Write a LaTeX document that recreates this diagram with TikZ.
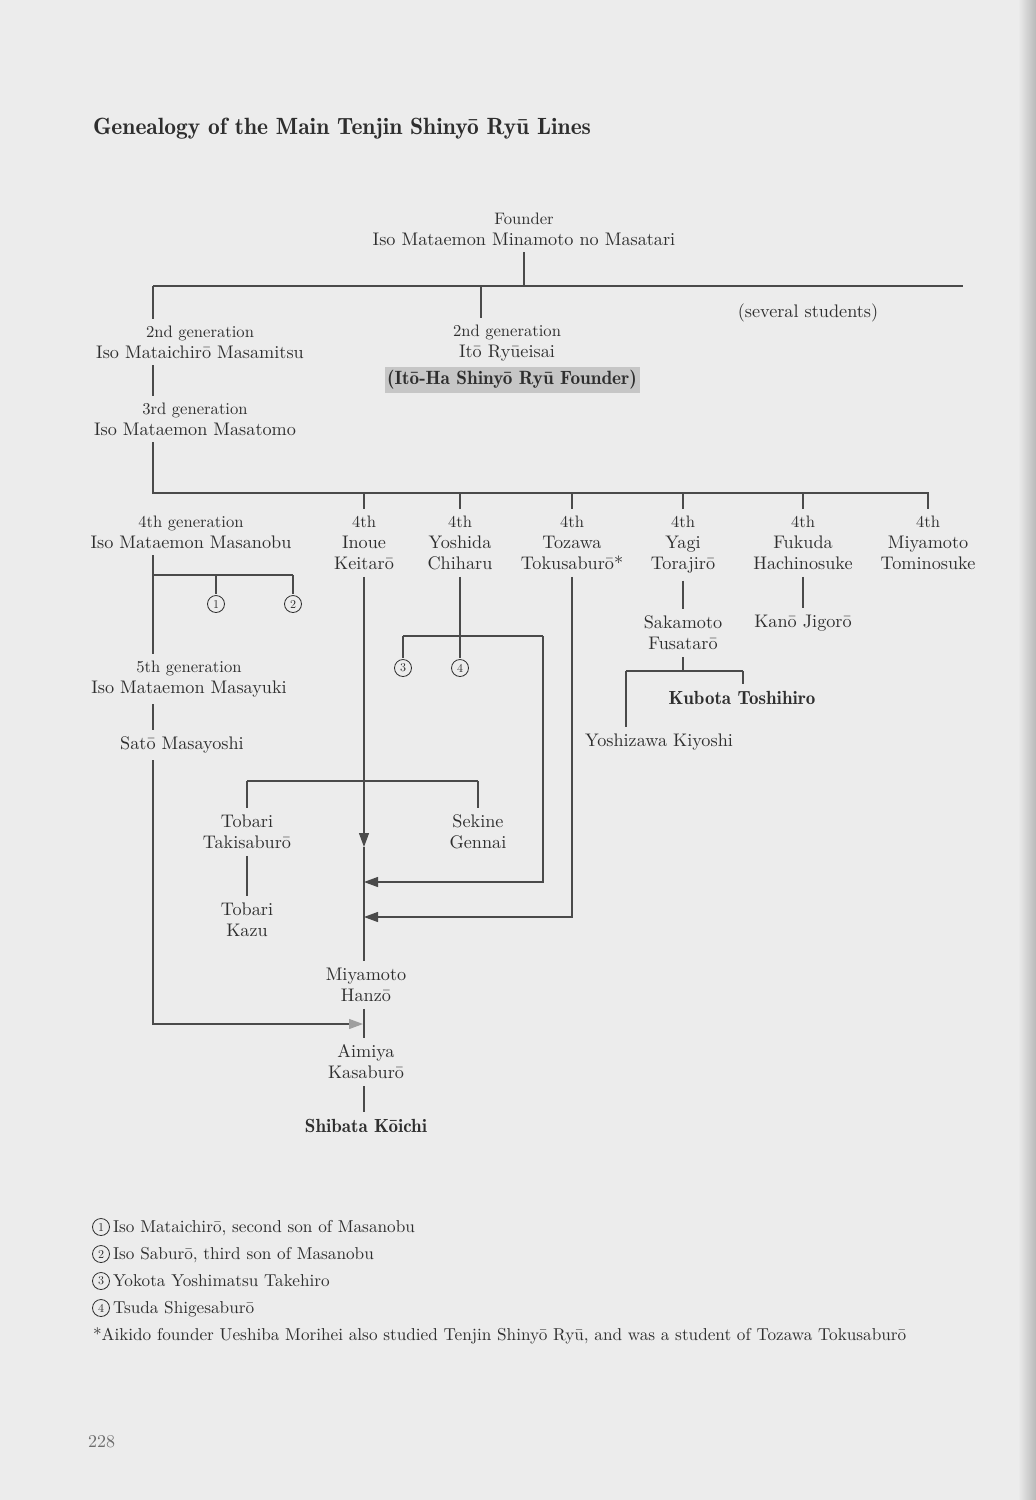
\documentclass[tikz,border=0pt]{standalone}
\usepackage{fontspec}
\setmainfont{lmroman10-regular}[Extension=.otf, BoldFont=lmromandemi10-regular]
\newfontfamily\demi{lmromandemi10-regular}[Extension=.otf]
\usetikzlibrary{arrows.meta}
\definecolor{ink}{HTML}{2E2E2E}
\definecolor{rulec}{HTML}{4A4A4A}
\definecolor{paper}{HTML}{ECECEC}
\definecolor{boxgray}{HTML}{C6C6C6}
\newcommand\nmsize{\fontsize{18.2}{21}\selectfont}
\newcommand\gl[1]{{\fontsize{16.6}{21}\selectfont #1}}
\begin{document}
\begin{tikzpicture}[x=1pt,y=-1pt,
  every node/.style={text=ink, inner sep=0pt, outer sep=7pt, font=\nmsize, align=center},
  ln/.style={draw=rulec, line width=1.2pt},
  arr/.style={ln, -{Triangle[length=14pt,width=10pt]}},
  arrlight/.style={ln, -{Triangle[length=14pt,width=10pt,color=gray!75]}},
  circ/.style={circle, draw=ink, line width=0.8pt, minimum size=17pt, inner sep=0pt, outer sep=1.5pt, font=\fontsize{12}{13}\selectfont},
  boldname/.style={font=\demi\fontsize{19}{21}\selectfont},
  fnote/.style={anchor=base west, outer sep=0pt, font=\fontsize{17.2}{20}\selectfont}]
\fill[paper] (0,0) rectangle (1036,1500);
\shade[left color=paper, right color=gray!55] (1018,0) rectangle (1036,1500);
\useasboundingbox (0,0) rectangle (1036,1500);

% title
\node[anchor=base west, outer sep=0pt, font=\demi\fontsize{23.5}{26}\selectfont] (title) at (93,134) {Genealogy of the Main Tenjin Shinyō Ryū Lines};

% founder and 2nd generation
\node (founder) at (524,229) {\gl{Founder}\\Iso Mataemon Minamoto no Masatari};
\coordinate (tL) at (153,286);
\coordinate (tM) at (481,286);
\coordinate (tR) at (963,286);
\draw[ln] (founder.south) -- (founder.south |- tL);
\draw[ln] (tL) -- (tR);

\node (gen2a) at (200,342) {\gl{2nd generation}\\Iso Mataichirō Masamitsu};
\node (gen2b) at (507,343) {\gl{2nd generation}\\Itō Ryūeisai};
\node[fill=boxgray, font=\demi\fontsize{19.2}{21}\selectfont, minimum width=255pt, minimum height=26pt, outer sep=0pt] (itoha) at (512,380) {(Itō-Ha Shinyō Ryū Founder)};
\node (several) at (808,313) {(several students)};
\draw[ln] (tL) -- (tL |- gen2a.north);
\draw[ln] (tM) -- (tM |- gen2b.north);

% 3rd generation
\node (gen3) at (195,419) {\gl{3rd generation}\\Iso Mataemon Masatomo};
\draw[ln] (gen2a.south -| tL) -- (gen3.north -| tL);

% 4th generation row
\coordinate (fL) at (153,493);
\coordinate (fR) at (929,493);
\draw[ln] (gen3.south -| tL) -- (fL) -- (fR);
\node (gen4) at (191,532) {\gl{4th generation}\\Iso Mataemon Masanobu};
\node (inoue) at (364,543) {\gl{4th}\\Inoue\\Keitarō};
\node (yoshida) at (460,543) {\gl{4th}\\Yoshida\\Chiharu};
\node (tozawa) at (572,543) {\gl{4th}\\Tozawa\\Tokusaburō*};
\node (yagi) at (683,545) {\gl{4th}\\Yagi\\Torajirō};
\node (fukuda) at (803,543) {\gl{4th}\\Fukuda\\Hachinosuke};
\node (miyaT) at (928,543) {\gl{4th}\\Miyamoto\\Tominosuke};
\foreach \n in {inoue,yoshida,tozawa,yagi,fukuda,miyaT}
  \draw[ln] (\n.north |- fL) -- (\n.north);

% Masanobu line
\coordinate (bA) at (153,575);
\coordinate (bC) at (216,575);
\coordinate (bB) at (293,575);
\node[circ] (c1) at (216,604) {1};
\node[circ] (c2) at (293,604) {2};
\draw[ln] (bA) -- (bB);
\draw[ln] (bC) -- (c1.north);
\draw[ln] (bB) -- (c2.north);
\node (gen5) at (189,679) {\gl{5th generation}\\Iso Mataemon Masayuki};
\draw[ln] (gen4.south -| tL) -- (gen5.north -| tL);
\node (sato) at (182,745) {Satō Masayoshi};
\draw[ln] (gen5.south -| tL) -- (sato.north -| tL);

% lower central line
\node (tobariT) at (247,832) {Tobari\\Takisaburō};
\node (sekine) at (478,832) {Sekine\\Gennai};
\node (tobariK) at (247,920) {Tobari\\Kazu};
\node (hanzo) at (366,985) {Miyamoto\\Hanzō};
\node (aimiya) at (366,1062) {Aimiya\\Kasaburō};
\node[boldname] (shibata) at (366,1126) {Shibata Kōichi};

\coordinate (inA) at (364,847);
\draw[arr] (inoue.south) -- (inA);
\draw[ln] (inA) -- (inA |- hanzo.north);
\coordinate (tbL) at (247,781);
\coordinate (tbR) at (478,781);
\draw[ln] (tbL) -- (tbR);
\draw[ln] (tbL) -- (tobariT.north);
\draw[ln] (tbR) -- (sekine.north);
\draw[ln] (tobariT.south) -- (tobariK.north);
\draw[ln] (hanzo.south -| inA) -- (aimiya.north -| inA);
\draw[ln] (aimiya.south -| inA) -- (shibata.north -| inA);

% Yoshida line
\coordinate (ysJ) at (460,636);
\coordinate (ysL) at (403,636);
\coordinate (ysR) at (543,636);
\coordinate (ysD) at (543,882);
\coordinate (ysE) at (364,882);
\node[circ] (c3) at (403,668) {3};
\node[circ] (c4) at (460,668) {4};
\draw[ln] (yoshida.south) -- (ysJ);
\draw[ln] (ysL) -- (ysR);
\draw[ln] (ysL) -- (c3.north);
\draw[ln] (ysJ) -- (c4.north);
\draw[arr] (ysR) -- (ysD) -- (ysE);

% Tozawa line
\coordinate (tzD) at (572,917);
\coordinate (tzE) at (364,917);
\draw[arr] (tozawa.south) -- (tzD) -- (tzE);

% Sato line
\coordinate (stD) at (153,1024);
\coordinate (stE) at (363,1024);
\draw[arrlight] (sato.south -| tL) -- (stD) -- (stE);

% Yagi and Fukuda lines
\node (sakamoto) at (683,633) {Sakamoto\\Fusatarō};
\node (kano) at (803,623) {Kanō Jigorō};
\draw[ln] (yagi.south) -- (sakamoto.north);
\draw[ln] (fukuda.south) -- (kano.north);
\node[boldname] (kubota) at (742,698) {Kubota Toshihiro};
\node (yoshizawa) at (659,742) {Yoshizawa Kiyoshi};
\coordinate (skJ) at (683,671);
\coordinate (skL) at (626,671);
\coordinate (skR) at (743,671);
\draw[ln] (sakamoto.south) -- (skJ);
\draw[ln] (skL) -- (skR);
\draw[ln] (skR) -- (skR |- kubota.north);
\draw[ln] (skL) -- (skL |- yoshizawa.north);

% footnotes
\node[circ] (f1c) at (101,1227) {1};
\node[fnote] (f1) at (113,1232) {Iso Mataichirō, second son of Masanobu};
\node[circ] (f2c) at (101,1254) {2};
\node[fnote] (f2) at (113,1259) {Iso Saburō, third son of Masanobu};
\node[circ] (f3c) at (101,1281) {3};
\node[fnote] (f3) at (113,1286) {Yokota Yoshimatsu Takehiro};
\node[circ] (f4c) at (101,1308) {4};
\node[fnote] (f4) at (113,1313) {Tsuda Shigesaburō};
\node[fnote] (f5) at (93,1340) {*Aikido founder Ueshiba Morihei also studied Tenjin Shinyō Ryū, and was a student of Tozawa Tokusaburō};

% page number
\node[anchor=base west, outer sep=0pt, text=gray!85!black, font=\fontsize{18}{20}\selectfont] (pageno) at (88,1447) {228};
\end{tikzpicture}
\end{document}
